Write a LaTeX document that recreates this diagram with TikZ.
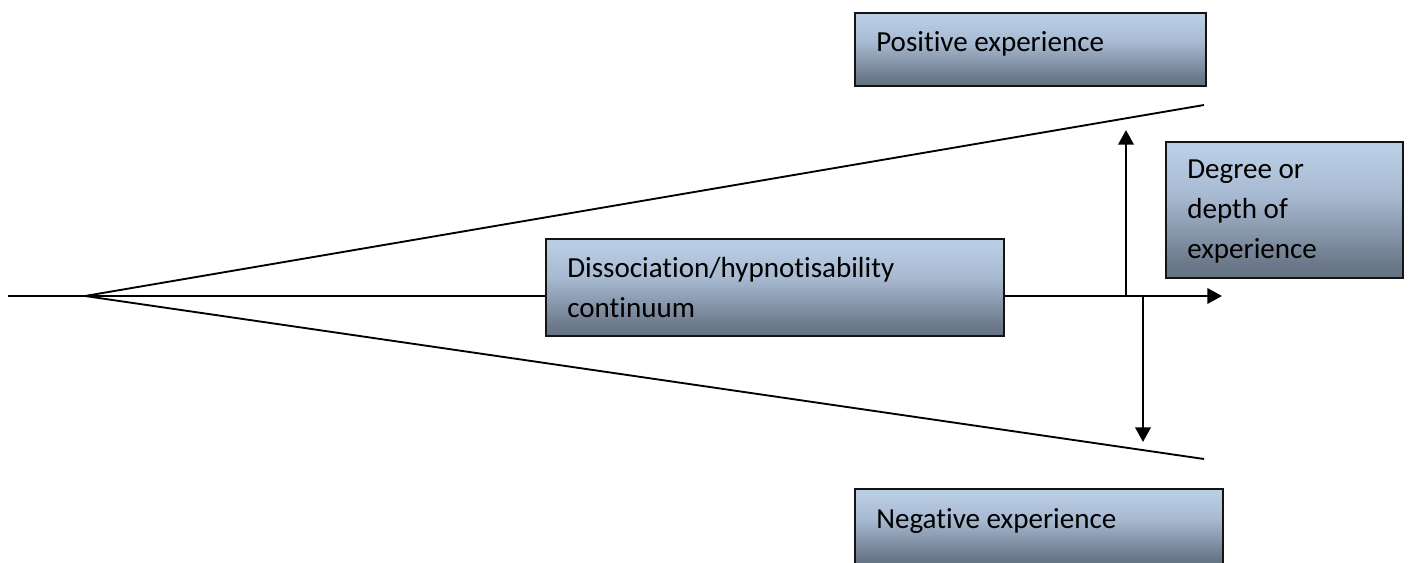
\documentclass[tikz,border=0pt]{standalone}
\usepackage{fontspec}
\setmainfont{Carlito}[RawFeature={-liga}]
\usetikzlibrary{arrows.meta,calc}
\definecolor{boxlight}{RGB}{185,205,229}
\definecolor{boxmid}{RGB}{140,156,178}
\definecolor{boxdark}{RGB}{80,90,104}
\definecolor{boxline}{RGB}{20,20,20}
\pgfdeclareverticalshading{boxshade}{100bp}{color(0bp)=(boxdark); color(30bp)=(boxdark!55!boxmid); color(55bp)=(boxmid!40!boxlight); color(72bp)=(boxlight); color(100bp)=(boxlight)}
\tikzset{
  gbox/.style={draw=boxline, line width=1.3pt, shading=boxshade, rectangle, inner sep=0pt},
  gtext/.style={anchor=base west, inner sep=0pt, font=\fontsize{21.8}{30}\selectfont, text=black, align=left},
  thinline/.style={line width=1.4pt, black},
  arr/.style={line width=2pt, black, -{Triangle[length=11pt,width=11.5pt]}}
}
\begin{document}
\begin{tikzpicture}[x=0.75pt,y=-0.75pt]
\useasboundingbox (0,0) rectangle (1410,563);
\clip (0,0) rectangle (1410,563);
% coordinates
\coordinate (start) at (8,296);
\coordinate (apex) at (85,296);
\coordinate (upend) at (1204,105);
\coordinate (lowend) at (1204,459);
\coordinate (tip) at (1222,296);
\coordinate (upbase) at (1126,295);
\coordinate (uptip) at (1126,130);
\coordinate (dnbase) at (1143,297);
\coordinate (dntip) at (1143,442);
% wedge lines
\draw[thinline] (apex) -- (upend);
\draw[thinline] (apex) -- (lowend);
% main axis
\draw[arr] (start) -- (tip);
% depth arrows
\draw[arr] (upbase) -- (uptip);
\draw[arr] (dnbase) -- (dntip);
% boxes
\node[gbox, minimum width=263.25pt, minimum height=54.75pt, anchor=north west] (pos) at (854,12) {};
\node[gtext] (postext) at (876,52) {Positive experience};
\node[gbox, minimum width=177.75pt, minimum height=102pt, anchor=north west] (deg) at (1165,141) {};
\node[gtext] (degtext) at (1187,258) {Degree or\\depth of\\experience};
\node[gbox, minimum width=343.5pt, minimum height=72.75pt, anchor=north west] (mid) at (545,238) {};
\node[gtext] (midtext) at (567,317) {Dissociation/hypnotisability\\continuum};
\node[gbox, minimum width=276pt, minimum height=57pt, anchor=north west] (neg) at (854,488) {};
\node[gtext] (negtext) at (876,528) {Negative experience};
\end{tikzpicture}
\end{document}
